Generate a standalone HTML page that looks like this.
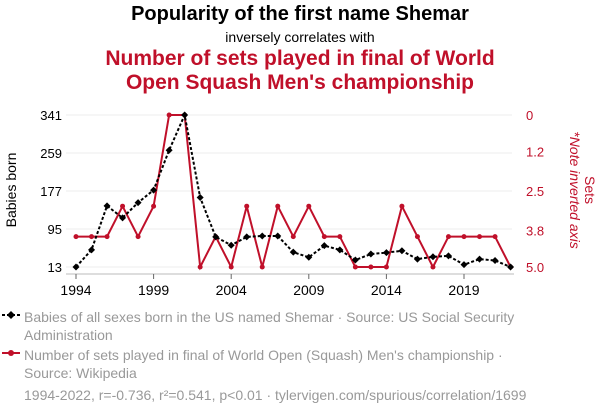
<!DOCTYPE html>
<html><head><meta charset="utf-8"><style>
body{margin:0;background:#fff;font-family:"Liberation Sans",sans-serif;}
#c{position:relative;width:600px;height:414px;overflow:hidden}
.t{position:absolute;left:0;width:600px;text-align:center}
.lg{position:absolute;left:24px;font-size:14px;color:#999;line-height:18px;width:570px}
</style></head><body><div id="c">
<div class="t" style="top:3px;font-size:20px;font-weight:bold;color:#000">Popularity of the first name Shemar</div>
<div class="t" style="top:29px;font-size:14px;color:#000">inversely correlates with</div>
<div class="t" style="top:47px;font-size:21px;font-weight:bold;color:#c0102a;line-height:24px">Number of sets played in final of World<br>Open Squash Men's championship</div>
<svg id="s" width="600" height="414" style="position:absolute;left:0;top:0"></svg>
<div class="lg" style="top:308px;width:560px">Babies of all sexes born in the US named Shemar · Source: US Social Security Administration</div>
<div class="lg" style="top:346px;width:500px">Number of sets played in final of World Open (Squash) Men's championship · Source: Wikipedia</div>
<div class="lg" style="top:386px;left:24px">1994-2022, r=-0.736, r²=0.541, p&lt;0.01 · tylervigen.com/spurious/correlation/1699</div>
<svg width="24" height="80" style="position:absolute;left:0;top:305px">
<line x1="2" y1="10" x2="20" y2="10" stroke="#000" stroke-width="2" stroke-dasharray="3,2"/><path d="M11 6l4 4-4 4-4-4z" fill="#000"/>
<line x1="2" y1="48" x2="20" y2="48" stroke="#c0102a" stroke-width="2"/><circle cx="11" cy="48" r="3" fill="#c0102a"/></svg>
</div>
<script>
const years=[1994,1995,1996,1997,1998,1999,2000,2001,2002,2003,2004,2005,2006,2007,2008,2009,2010,2011,2012,2013,2014,2015,2016,2017,2018,2019,2020,2021,2022];
const babies=[13,50,145,119,152,179,265,341,163,78,60,78,80,80,45,34,59,50,28,41,44,48,30,35,37,18,30,27,13];
const sets=[4,4,4,3,4,3,0,0,5,4,5,3,5,3,4,3,4,4,5,5,5,3,4,5,4,4,4,4,5];
const leftTicks=[13,95,177,259,341];
const rightTicks=[0,1.2,2.5,3.8,5.0];
const rightLabels=["0","1.2","2.5","3.8","5.0"];
const xTicks=[1994,1999,2004,2009,2014,2019];
const NS="http://www.w3.org/2000/svg",s=document.getElementById('s');
const X=y=>76+(y-1994)*15.52, YL=v=>267-(v-13)/328*152, YR=v=>115+v/5*152;
function mk(t,a,p){const e=document.createElementNS(NS,t);for(const k in a)e.setAttribute(k,a[k]);(p||s).appendChild(e);return e;}
leftTicks.forEach((v,i)=>{
 const g=mk('line',{x1:66,x2:512,y1:YL(v),y2:YL(v),stroke:'#eee','stroke-width':1});
 
 
 const t=mk('text',{x:62,y:YL(v)+5,'text-anchor':'end','font-size':13,fill:'#000'});t.textContent=v;
 
 
});
rightTicks.forEach((v,i)=>{
 const t=mk('text',{x:526,y:YR(v)+5,'font-size':13,fill:'#c0102a'});t.textContent=rightLabels[i];
 
 
});
const ax=mk('line',{x1:66,x2:514,y1:274,y2:274,stroke:'#bbb','stroke-width':1});


xTicks.forEach(y=>{
 mk('line',{x1:X(y),x2:X(y),y1:274,y2:279,stroke:'#666'});
 const t=mk('text',{x:X(y),y:295,'text-anchor':'middle','font-size':14,fill:'#000'});t.textContent=y;
 
 
});
let yl=mk('text',{x:0,y:0,'text-anchor':'middle','font-size':14,fill:'#000',transform:'translate(16,190) rotate(-90)'});yl.textContent='Babies born';


let yr=mk('text',{x:0,y:0,'text-anchor':'middle','font-size':14,fill:'#c0102a',transform:'translate(585,190) rotate(90)'});yr.textContent='Sets';


let yr2=mk('text',{x:0,y:0,'text-anchor':'middle','font-size':14,'font-style':'italic',fill:'#c0102a',transform:'translate(570,190) rotate(90)'});yr2.textContent='*Note inverted axis';


const rl=mk('polyline',{points:years.map((y,i)=>X(y)+','+YR(sets[i])).join(' '),fill:'none',stroke:'#c0102a','stroke-width':2});


years.forEach((y,i)=>{const c=mk('circle',{cx:X(y),cy:YR(sets[i]),r:2.5,fill:'#c0102a'});
 
 });
const bl=mk('polyline',{points:years.map((y,i)=>X(y)+','+YL(babies[i])).join(' '),fill:'none',stroke:'#000','stroke-width':2,'stroke-dasharray':'3,2'});


years.forEach((y,i)=>{const x=X(y),v=YL(babies[i]);const p=mk('path',{d:`M${x} ${v-3.5}l3.5 3.5-3.5 3.5-3.5-3.5z`,fill:'#000'});
 
 });
</script></body></html>
